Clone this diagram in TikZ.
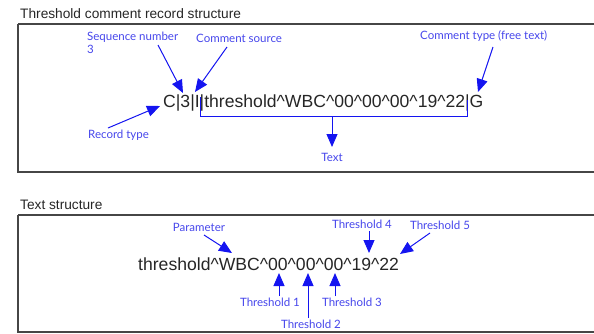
\documentclass[tikz,border=0pt]{standalone}
\usepackage{fontspec}
\setmainfont{Liberation Sans}
\newfontfamily\lblfont{Lato}
\usetikzlibrary{arrows.meta}
\definecolor{lblblue}{RGB}{70,70,235}
\definecolor{arrblue}{RGB}{20,20,240}
\definecolor{boxgray}{RGB}{70,70,70}
\tikzset{
  frame/.style={draw=boxgray,line width=1.4pt},
  title/.style={anchor=base west,inner sep=0pt,font=\fontsize{13.7}{15}\selectfont,text=black!85},
  mainrec/.style={anchor=base west,inner sep=0pt,font=\fontsize{17.6}{20}\selectfont,text=black!85},
  lbl/.style={inner sep=0pt,font=\lblfont\fontsize{11.5}{12.5}\selectfont,text=lblblue},
  arr/.style={draw=arrblue,line width=1pt,-{Triangle[length=13pt,width=11pt]}},
  brk/.style={draw=arrblue,line width=1pt}
}
\begin{document}
\begin{tikzpicture}[x=1pt,y=-1pt]
\useasboundingbox (0,0) rectangle (594,333);
% frames
\draw[frame] (18,24) -- (600,24);
\draw[frame] (18,24) -- (18,172) -- (600,172);
\draw[frame] (18,215) -- (600,215);
\draw[frame] (18,215) -- (18,332) -- (600,332);
\node[title] (t1) at (20,18) {Threshold comment record structure};
\node[title] (t2) at (20,209) {Text structure};
% record
\node[mainrec] (rec) at (163,107) {C|3|I|threshold\^{}WBC\^{}00\^{}00\^{}00\^{}19\^{}22|G};
% labels
\node[lbl,anchor=north west,align=left] (seq) at (87,32) {Sequence number\\3};
\node[lbl,anchor=west] (src) at (196,38.5) {Comment source};
\node[lbl,anchor=west] (ctype) at (420,36) {Comment type (free text)};
\node[lbl,anchor=west] (rtype) at (88,135) {Record type};
\node[lbl] (txt) at (332,157) {Text};
% coordinates
\coordinate (seqT) at (158,45);
\coordinate (seqH) at (183,93);
\coordinate (srcT) at (227,47);
\coordinate (srcH) at (195,92);
\coordinate (ctT) at (493,47);
\coordinate (ctH) at (478,92);
\coordinate (rtT) at (108,128);
\coordinate (rtH) at (160,106);
\coordinate (bL) at (200,97);
\coordinate (bLb) at (200,116);
\coordinate (bM) at (332,116);
\coordinate (bRb) at (467,116);
\coordinate (bR) at (467,100);
\coordinate (txtH) at (332,147);
\draw[arr] (seqT) -- (seqH);
\draw[arr] (srcT) -- (srcH);
\draw[arr] (ctT) -- (ctH);
\draw[arr] (rtT) -- (rtH);
\draw[brk] (bL) -- (bLb) -- (bRb) -- (bR);
\draw[arr] (bM) -- (txtH);
% text structure
\node[mainrec] (ts) at (138,270) {threshold\^{}WBC\^{}00\^{}00\^{}00\^{}19\^{}22};
\node[lbl] (par) at (199,227) {Parameter};
\node[lbl] (th1) at (270,302) {Threshold 1};
\node[lbl] (th2) at (311,324) {Threshold 2};
\node[lbl] (th3) at (352,302) {Threshold 3};
\node[lbl] (th4) at (362,224) {Threshold 4};
\node[lbl] (th5) at (440,225) {Threshold 5};
\coordinate (parT) at (204,235);
\coordinate (parH) at (232,253);
\coordinate (th1T) at (279,296);
\coordinate (th1H) at (279,273);
\coordinate (th2T) at (308,318);
\coordinate (th2H) at (308,273);
\coordinate (th3T) at (335,296);
\coordinate (th3H) at (335,273);
\coordinate (th4T) at (369,231);
\coordinate (th4H) at (369,253);
\coordinate (th5T) at (430,233);
\coordinate (th5H) at (400,254);
\draw[arr] (parT) -- (parH);
\draw[arr] (th1T) -- (th1H);
\draw[arr] (th2T) -- (th2H);
\draw[arr] (th3T) -- (th3H);
\draw[arr] (th4T) -- (th4H);
\draw[arr] (th5T) -- (th5H);
\end{tikzpicture}
\end{document}
